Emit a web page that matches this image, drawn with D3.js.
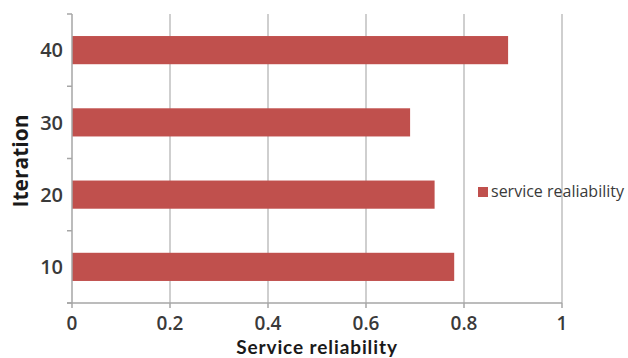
<!DOCTYPE html>
<html>
<head>
<meta charset="utf-8">
<script src="https://cdn.jsdelivr.net/npm/d3@7/dist/d3.min.js"></script>
<style>
  html, body { margin: 0; padding: 0; background: #fff; }
  svg { display: block; }
</style>
</head>
<body>
<svg id="chart" width="628" height="358"></svg>
<script>
// Service reliability per iteration
const iterations = ["10", "20", "30", "40"];
const reliability = [0.78, 0.74, 0.69, 0.89];
const xTicks = [0, 0.2, 0.4, 0.6, 0.8, 1];
const xTickLabels = ["0", "0.2", "0.4", "0.6", "0.8", "1"];
const seriesName = "service realiability";

const svg = d3.select("#chart");
const margin = { left: 72, right: 66, top: 14, bottom: 55 };
const W = 628, H = 358;
const plotW = W - margin.left - margin.right;
const plotH = H - margin.top - margin.bottom;
const barColor = "#c0504d";
const gridColor = "#bfbfbf";
const font = "'Open Sans', 'Noto Sans', sans-serif";
const titleFont = "Lato, 'Open Sans', sans-serif";

const x = d3.scaleLinear().domain([0, 1]).range([margin.left, margin.left + plotW]);
const y = d3.scaleBand()
  .domain(iterations.slice().reverse())
  .range([margin.top, margin.top + plotH])
  .paddingInner(0.61)
  .paddingOuter(0.305);

// vertical gridlines
svg.append("g")
  .selectAll("line")
  .data(xTicks.filter(d => d > 0))
  .join("line")
  .attr("x1", d => x(d)).attr("x2", d => x(d))
  .attr("y1", margin.top).attr("y2", margin.top + plotH)
  .attr("stroke", gridColor).attr("stroke-width", 1.5);

// bars
svg.append("g")
  .selectAll("rect")
  .data(iterations.map((k, i) => ({ k, v: reliability[i] })))
  .join("rect")
  .attr("x", x(0))
  .attr("y", d => y(d.k))
  .attr("width", d => x(d.v) - x(0))
  .attr("height", y.bandwidth())
  .attr("fill", barColor);

// category boundaries for y ticks
const yBounds = d3.range(iterations.length + 1).map(i => margin.top + i * plotH / iterations.length);

// y axis line + outer ticks
const yAxis = svg.append("g").attr("stroke", "#a6a6a6").attr("stroke-width", 1.5);
yAxis.append("line")
  .attr("x1", x(0)).attr("x2", x(0))
  .attr("y1", margin.top).attr("y2", margin.top + plotH);
yAxis.selectAll("line.t")
  .data(yBounds)
  .join("line").attr("class", "t")
  .attr("x1", x(0) - 5).attr("x2", x(0))
  .attr("y1", d => d).attr("y2", d => d);

// x axis line + ticks
const xAxis = svg.append("g").attr("stroke", "#a6a6a6").attr("stroke-width", 1.5);
xAxis.append("line")
  .attr("x1", x(0) - 5).attr("x2", x(1))
  .attr("y1", margin.top + plotH).attr("y2", margin.top + plotH);
xAxis.selectAll("line.t")
  .data(xTicks)
  .join("line").attr("class", "t")
  .attr("x1", d => x(d)).attr("x2", d => x(d))
  .attr("y1", margin.top + plotH).attr("y2", margin.top + plotH + 5);

// y tick labels
svg.append("g")
  .selectAll("text")
  .data(iterations)
  .join("text")
  .attr("x", x(0) - 9)
  .attr("y", d => y(d) + y.bandwidth() / 2)
  .attr("dy", "0.36em")
  .attr("text-anchor", "end")
  .attr("font-family", font)
  .attr("font-size", 20)
  .attr("font-weight", 600)
  .attr("fill", "#3a3a3a")
  .text(d => d);

// x tick labels
svg.append("g")
  .selectAll("text")
  .data(xTicks)
  .join("text")
  .attr("x", d => x(d))
  .attr("y", 330)
  .attr("text-anchor", "middle")
  .attr("font-family", font)
  .attr("font-size", 19)
  .attr("font-weight", 600)
  .attr("fill", "#3a3a3a")
  .text((d, i) => xTickLabels[i]);

// axis titles
svg.append("text")
  .attr("x", (x(0) + x(1)) / 2)
  .attr("y", 354)
  .attr("text-anchor", "middle")
  .attr("font-family", titleFont)
  .attr("font-size", 19)
  .attr("font-weight", 700)
  .attr("letter-spacing", 0.9)
  .attr("fill", "#1a1a1a")
  .text("Service reliability");

svg.append("text")
  .attr("transform", `translate(28, 161) rotate(-90)`)
  .attr("text-anchor", "middle")
  .attr("font-family", font)
  .attr("font-size", 21)
  .attr("font-weight", 700)
  .attr("fill", "#1a1a1a")
  .text("Iteration");

// legend
const lg = svg.append("g").attr("transform", "translate(478, 187)");
lg.append("rect").attr("width", 10).attr("height", 10).attr("fill", barColor);
lg.append("text")
  .attr("x", 13).attr("y", 10)
  .attr("font-family", font)
  .attr("font-size", 16)
  .attr("fill", "#3a3a3a")
  .text(seriesName);
</script>
</body>
</html>
